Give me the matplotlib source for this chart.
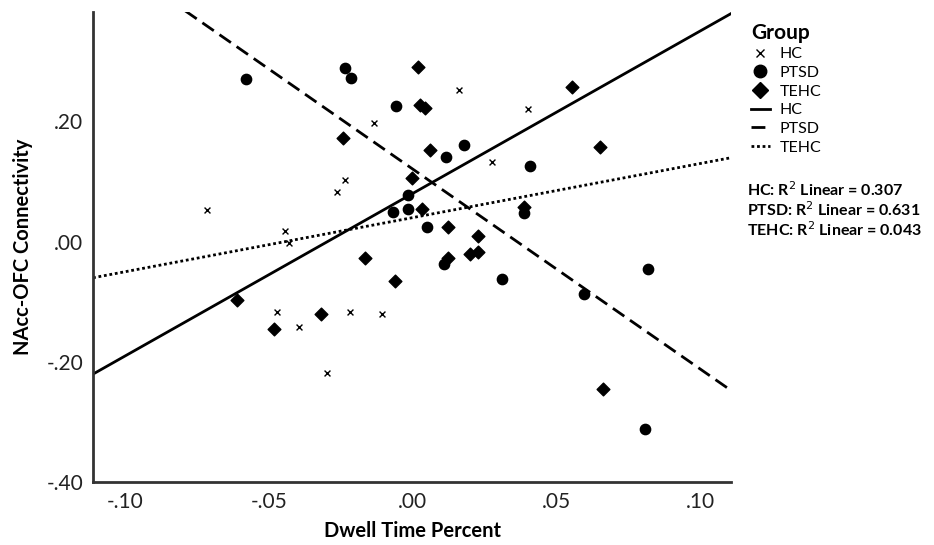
import numpy as np
import matplotlib
matplotlib.use("Agg")
import matplotlib.pyplot as plt
from matplotlib.lines import Line2D
from matplotlib.ticker import FuncFormatter

plt.rcParams['font.family'] = ['Lato', 'DejaVu Sans']

# HC (x markers)
hc_x = [-0.0715, -0.0444, -0.0431, -0.0472, -0.0396, -0.0264, -0.0236,
        -0.0219, -0.0135, -0.0108, -0.0299, 0.0160, 0.0274, 0.0400]
hc_y = [0.052, 0.018, -0.003, -0.117, -0.142, 0.082, 0.102,
        -0.117, 0.198, -0.120, -0.218, 0.252, 0.133, 0.220]

# PTSD (circles)
ptsd_x = [-0.0580, -0.0236, -0.0215, -0.0059, 0.0177, 0.0115, 0.0406, -0.0017,
          -0.0069, -0.0017, 0.0049, 0.0385, 0.0108, 0.0309, 0.0594, 0.0816, 0.0806]
ptsd_y = [0.270, 0.288, 0.273, 0.225, 0.160, 0.140, 0.125, 0.078,
          0.050, 0.055, 0.025, 0.048, -0.037, -0.062, -0.087, -0.045, -0.312]

# TEHC (diamonds)
tehc_x = [0.0017, 0.0024, 0.0042, -0.0243, 0.0059, 0.0552, 0.0649, -0.0003,
          0.0031, 0.0122, 0.0226, 0.0385, 0.0122, 0.0198, 0.0226, 0.0660,
          -0.0167, -0.0063, -0.0611, -0.0319, -0.0483]
tehc_y = [0.290, 0.228, 0.222, 0.172, 0.152, 0.257, 0.157, 0.105,
          0.055, 0.025, 0.010, 0.058, -0.027, -0.020, -0.018, -0.245,
          -0.028, -0.065, -0.097, -0.120, -0.145]

groups = ["HC", "PTSD", "TEHC"]
r2_labels = ["0.307", "0.631", "0.043"]
x_ticks = [-0.10, -0.05, 0.00, 0.05, 0.10]
y_ticks = [-0.40, -0.20, 0.00, 0.20]

fig = plt.figure(figsize=(9.34, 5.45), dpi=100)
ax = fig.add_axes([0.0996, 0.1156, 0.683, 0.8624])

xlim = (-0.111, 0.1105)
ylim = (-0.40, 0.382)

ax.scatter(hc_x, hc_y, marker="x", s=18, color="black", linewidths=1.0, zorder=3)
ax.scatter(ptsd_x, ptsd_y, marker="o", s=55, color="black", zorder=3)
ax.scatter(tehc_x, tehc_y, marker="D", s=42, color="black", zorder=3)

# lineas de ajuste lineal por grupo
xx = np.array(xlim)
styles = {"HC": dict(ls="-"), "PTSD": dict(ls=(0, (5, 2.5))), "TEHC": dict(ls=(0, (1, 1)))}
for g, (gx, gy) in zip(groups, [(hc_x, hc_y), (ptsd_x, ptsd_y), (tehc_x, tehc_y)]):
    b, a = np.polyfit(gx, gy, 1)
    ax.plot(xx, a + b * xx, color="black", lw=2.0, **styles[g], zorder=2)

ax.set_xlim(*xlim)
ax.set_ylim(*ylim)
ax.set_xticks(x_ticks)
ax.set_yticks(y_ticks)

def fmt(v, pos):
    s = f"{v:.2f}"
    return s.replace("0.", ".")

ax.xaxis.set_major_formatter(FuncFormatter(fmt))
ax.yaxis.set_major_formatter(FuncFormatter(fmt))
ax.tick_params(length=0, labelsize=15, pad=7, colors="#222222")
for side in ["top", "right"]:
    ax.spines[side].set_visible(False)
for side in ["left", "bottom"]:
    ax.spines[side].set_linewidth(2.0)
    ax.spines[side].set_color("#333333")

fig.text(412 / 934, 1 - 531 / 545, "Dwell Time Percent", fontsize=14.5,
         fontweight="bold", ha="center", va="center")
fig.text(23 / 934, 1 - 247 / 545, "NAcc-OFC Connectivity", fontsize=14.5,
         fontweight="bold", ha="center", va="center", rotation=90)

handles = [
    Line2D([], [], ls="", marker="x", color="black", markersize=6, markeredgewidth=1.0),
    Line2D([], [], ls="", marker="o", color="black", markersize=9),
    Line2D([], [], ls="", marker="D", color="black", markersize=8),
    Line2D([], [], ls="-", color="black", lw=2),
    Line2D([], [], ls=(0, (5, 2.5)), color="black", lw=2),
    Line2D([], [], ls=(0, (1, 1)), color="black", lw=2),
]
labels = groups + groups
leg = fig.legend(handles, labels, title="Group", loc="upper left",
                 bbox_to_anchor=(0.797, 0.970), frameon=False,
                 fontsize=11.5, handlelength=1.2, handletextpad=0.6,
                 labelspacing=0.28, borderaxespad=0)
leg.get_title().set_fontweight("bold")
leg.get_title().set_fontsize(15)
leg._legend_box.align = "left"

for i, (g, r) in enumerate(zip(groups, r2_labels)):
    fig.text(747 / 934, 0.6514 - i * 0.0367, f"{g}: R$^2$ Linear = {r}",
             fontsize=11.5, fontweight="bold", va="center")

fig.savefig("out.png", dpi=100)
